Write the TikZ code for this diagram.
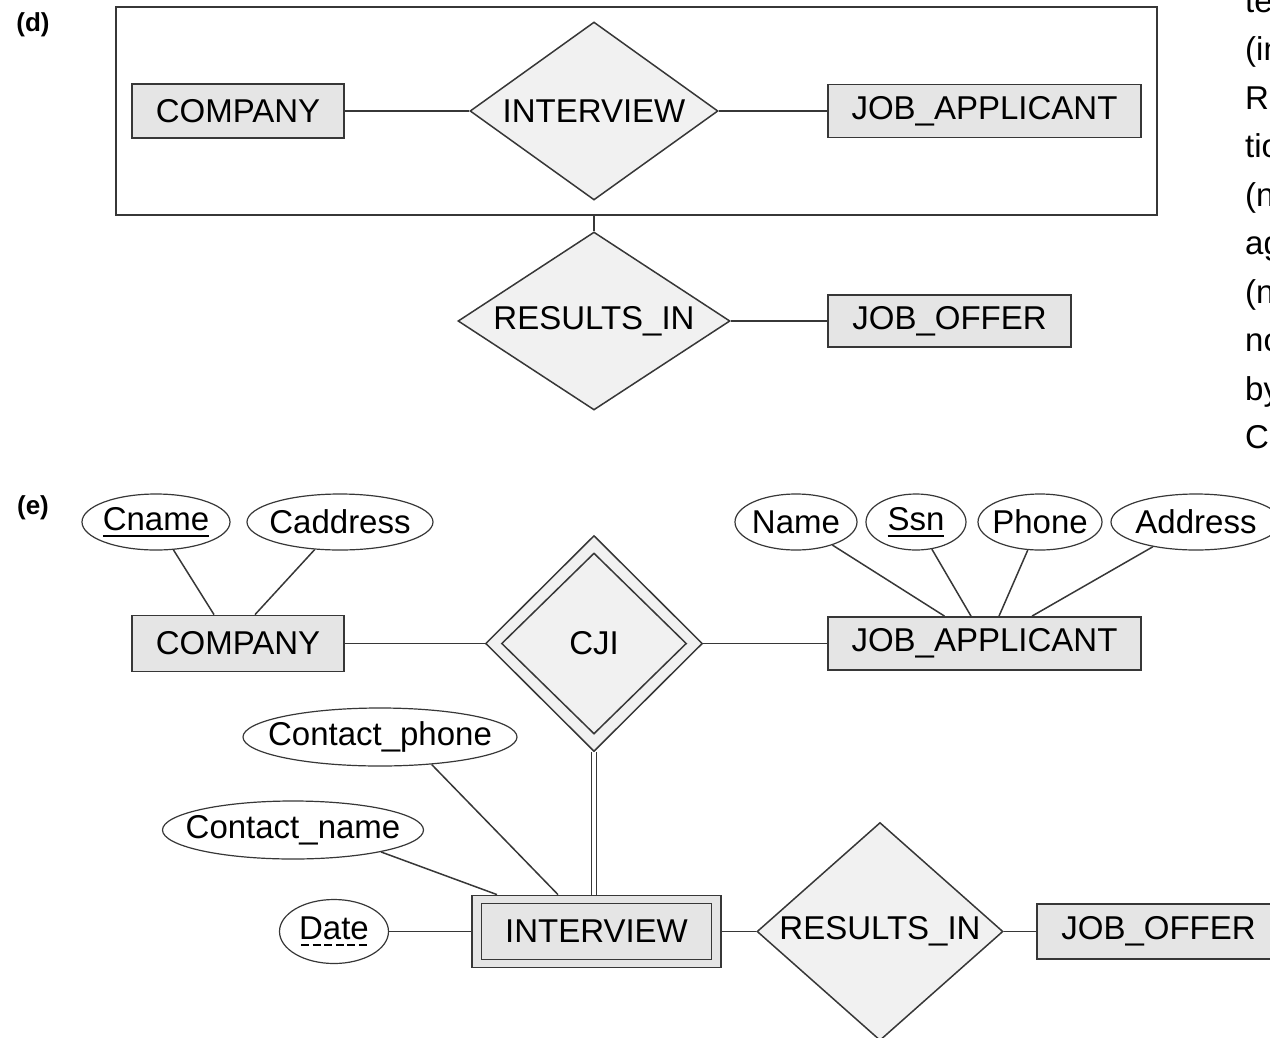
\documentclass[tikz,border=0pt]{standalone}
\usepackage{fontspec}
\setmainfont{Liberation Sans}
\usepackage{tikz}
\usetikzlibrary{shapes.geometric}
\usetikzlibrary{calc}
\definecolor{lineColor}{RGB}{55,55,55}
\definecolor{entityFill}{RGB}{229,229,229}
\definecolor{relationFill}{RGB}{241,241,241}
\newcommand{\erFont}{\fontsize{33}{36}\selectfont}
\newcommand{\keyText}[1]{\setbox0\hbox{#1}\rlap{\rule[-6pt]{\wd0}{1.6pt}}\box0}
\newcommand{\partialKeyText}[1]{\setbox0\hbox{#1}\rlap{\raisebox{-6pt}{\hbox to \wd0{\xleaders\hbox{\kern1.5pt\rule{8pt}{1.6pt}\kern1.5pt}\hfill}}}\box0}
\tikzstyle{erCanvas} = [x = 1pt, y = -1pt, every node/.style={font=\erFont, inner sep=0pt}]
\tikzstyle{entityStyle} = [draw=lineColor, fill=entityFill, line width=1.8pt, rectangle]
\tikzstyle{frameStyle} = [draw=lineColor, line width=1.8pt, rectangle]
\tikzstyle{relationStyle} = [draw=lineColor, fill=relationFill, line width=1.5pt, diamond]
\tikzstyle{attributeStyle} = [draw=lineColor, fill=white, line width=1.2pt, ellipse]
\tikzstyle{erLine} = [draw=lineColor, line width=1.5pt]
\tikzstyle{totalLine} = [erLine, double=white, double distance=3.5pt]
\tikzstyle{partLabel} = [font=\fontsize{26}{30}\selectfont\bfseries]
\tikzstyle{marginText} = [anchor=base west]
\newcommand{\entity}[5]{\node [entityStyle, minimum width = #3pt, minimum height = #4pt] (#1) at (#2) {#5};}
\newcommand{\frameBox}[4]{\node [frameStyle, minimum width = #3pt, minimum height = #4pt] (#1) at (#2) {};}
\newcommand{\relationship}[5]{\node [relationStyle, minimum width = #3pt, minimum height = #4pt] (#1) at (#2) {\makebox[0pt]{#5}};}
\newcommand{\attribute}[5]{\node [attributeStyle, minimum width = #3pt, minimum height = #4pt] (#1) at (#2) {\makebox[0pt]{#5}};}
\newcommand{\attributeLine}[2]{\draw [erLine] (#1) -- (#2);}

\begin{document}
\begin{tikzpicture}[erCanvas]
  \useasboundingbox (0,0) rectangle (1270,1037);
  \clip (0,0) rectangle (1270,1037);

  % (d) aggregation
  \node [partLabel] (labelD) at (33,25) {(d)};
  \frameBox{aggregateFrame}{636.5,111}{1041}{208}
  \entity{companyD}{238,111}{212}{54}{COMPANY}
  \relationship{interviewD}{594,111}{248}{178}{INTERVIEW}
  \entity{applicantD}{984.5,111}{313}{53}{JOB\_APPLICANT}
  \relationship{resultsD}{594,321}{272}{178}{RESULTS\_IN}
  \entity{offerD}{949.5,321}{243}{52}{JOB\_OFFER}

  \attributeLine{companyD}{interviewD}
  \attributeLine{interviewD}{applicantD}
  \attributeLine{resultsD.north}{resultsD.north |- aggregateFrame.south}
  \attributeLine{resultsD}{offerD}

  % (e) weak entity
  \node [partLabel] (labelE) at (33,508) {(e)};
  \attribute{cnameA}{156,522}{148}{56}{\keyText{Cname}}
  \attribute{caddressA}{340,522}{186}{56}{Caddress}
  \attribute{nameA}{796,522}{122}{56}{Name}
  \attribute{ssnA}{916,522}{100}{56}{\keyText{Ssn}}
  \attribute{phoneA}{1040,522}{124}{56}{Phone}
  \attribute{addressA}{1196,522}{170}{56}{Address}
  \entity{companyE}{238,643.5}{212}{56}{COMPANY}
  \relationship{cjiR}{594,643.5}{217}{216}{CJI}
  \node [relationStyle, fill=none, minimum width=185pt, minimum height=181pt] (cjiInner) at (cjiR) {};
  \entity{applicantE}{984.5,643.5}{313}{53}{JOB\_APPLICANT}
  \attribute{cphoneA}{380,737}{274}{58}{Contact\_phone}
  \attribute{cnameContactA}{293,830}{261}{58}{Contact\_name}
  \attribute{dateA}{334,931.5}{109}{64}{\partialKeyText{Date}}
  \entity{interviewE}{596.5,931.5}{249}{72}{INTERVIEW}
  \frameBox{interviewInner}{596.5,931.5}{230}{56}
  \relationship{resultsE}{880,931.5}{246}{218}{RESULTS\_IN}
  \entity{offerE}{1158.5,931.5}{243}{55}{JOB\_OFFER}

  \attributeLine{companyE}{cjiR}
  \attributeLine{cjiR}{applicantE}
  \attributeLine{cnameA}{$(companyE.north)+(-24,0)$}
  \attributeLine{caddressA}{$(companyE.north)+(17,0)$}
  \attributeLine{nameA}{$(applicantE.north)+(-40,0)$}
  \attributeLine{ssnA}{$(applicantE.north)+(-13.5,0)$}
  \attributeLine{phoneA}{$(applicantE.north)+(14.5,0)$}
  \attributeLine{addressA}{$(applicantE.north)+(47.5,0)$}
  \attributeLine{cphoneA.-28}{$(interviewE.north)+(-38.5,0)$}
  \attributeLine{cnameContactA.-14}{$(interviewE.north)+(-99.5,0)$}
  \attributeLine{dateA}{interviewE}
  \draw [totalLine] (cjiR.south) -- (cjiR.south |- interviewE.north);
  \attributeLine{interviewE}{resultsE}
  \attributeLine{resultsE}{offerE}

  % text of the next column, cut by the page edge
  \node [marginText] (margin1) at (1245,12) {te};
  \node [marginText] (margin2) at (1245,60.5) {(in};
  \node [marginText] (margin3) at (1245,109) {R};
  \node [marginText] (margin4) at (1245,157.5) {tio};
  \node [marginText] (margin5) at (1245,206) {(n};
  \node [marginText] (margin6) at (1245,254.5) {ag};
  \node [marginText] (margin7) at (1245,303) {(n};
  \node [marginText] (margin8) at (1245,351.5) {no};
  \node [marginText] (margin9) at (1245,400) {by};
  \node [marginText] (margin10) at (1245,448.5) {C};
\end{tikzpicture}
\end{document}
